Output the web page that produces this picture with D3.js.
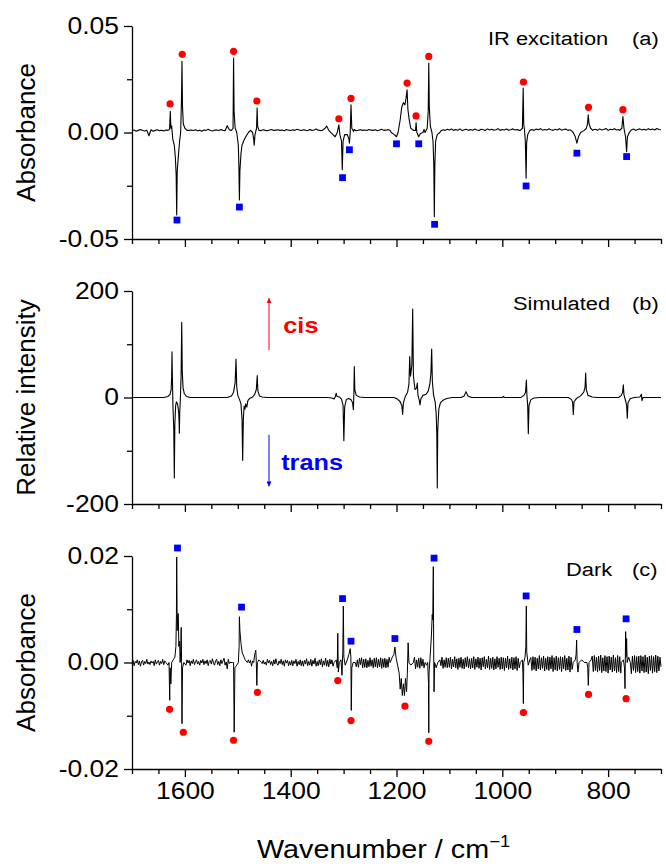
<!DOCTYPE html>
<html>
<head>
<meta charset="utf-8">
<script src="https://d3js.org/d3.v7.min.js"></script>
<style>
body { margin: 0; background: #fff; }
text { font-family: "Liberation Sans", Arial, sans-serif; }
</style>
</head>
<body>
<script>
(function(){

//x axis ticks (wavenumber, cm-1)
var xMajor = [1600, 1400, 1200, 1000, 800];
var xMinor = [1700, 1650, 1550, 1500, 1450, 1350, 1300, 1250, 1150, 1100, 1050,
              950, 900, 850, 750, 700];

//y axis ticks for each panel
var yMajorA = [-0.05, 0, 0.05], yMinorA = [-0.025, 0.025];
var yMajorB = [-200, 0, 200],   yMinorB = [-100, 100];
var yMajorC = [-0.02, 0, 0.02], yMinorC = [-0.01, 0.01];

var irNoiseStep = 4;
var irNoise = [
  8,12,6,10,14,9,7,11,-15,13,  6,10,13,8,11,7,12,9,10,8,  10,9,12,8,11,14,7,10,12,9,
  13,8,11,6,12,10,15,9,7,11,  12,9,14,10,8,32,13,10,9,11,  10,8,12,9,7,11,10,13,9,8,
  12,9,13,10,8,12,14,9,11,13,  10,12,8,14,11,9,13,10,15,12,  9,13,11,8,14,10,12,16,11,9,
  10,12,14,9,11,8,13,10,12,9,  11,13,10,9,12,14,8,11,13,10,  12,9,14,11,10,13,8,12,15,10,
  11,14,9,12,10,13,11,8,12,10,  12,10,13,9,11,14,10,12,15,11,  13,9,12,10,14,11,8,13,10,15,
  12,16,10,14,11,17,9,13,15,10,  14,11,16,12,9,15,13,10,17,12,  15,11,13,18,10,14,12,16,11,13,
  17,12,14,10,16,13,11,15,12,14,  10,16,13,18,11,14,12,17,13,10,  15,12,18,11,14,16,10,13,17,12,
  14,11,15,13,18,12,10,16,13,15,  11,17,12,14,19,10,15,13,18,12,  14,16,11,15,13,18,12,16,10,14,
  17,12,15,11,18,13,16,12,19,14,13
];
var darkNoiseStep = 2;
var darkNoise = [
  -3,4,-6,2,-1,5,-4,3,-7,1,4,-5,2,-2,6,-3,1,-4,3,-1,
  2,-6,5,-3,1,4,-5,2,-2,6,-4,3,-1,7,-5,2,-3,5,-6,1,
  4,-2,6,-5,2,-4,3,-1,5,-4,2,-3,5,-1,4,-6,3,-2,6,-4,
  1,5,-3,2,-5,4,-1,6,-4,3,-2,5,-6,2,4,-3,7,-1,-5,3,
  6,-4,2,-6,5,-2,3,8,-5,1,-12,6,-2,4,-5,3,-1,5,-6,2,
  4,-3,7,-5,2,-4,6,-2,3,-6,5,-1,4,-7,3,-2,6,-4,2,-5,
  3,-6,5,-2,4,-3,1,-5,6,-1,4,-4,2,-6,5,-3,7,-2,-5,3,
  -2,6,-4,3,-7,5,-1,4,-6,2,-5,4,-6,3,-2,6,-7,2,-4,5,
  -6,3,-7,4,-3,7,-6,2,-5,6,-7,4,-3,8,-7,2,-6,5,-4,7,
  -8,3,-5,8,-7,4,-8,6,-3,5,-7,6,-4,8,-9,3,-6,8,-8,2,
  -7,8,-9,4,-5,9,-8,3,-8,7,-6,9,-8,5,-9,8,-4,9,-10,6,
  -9,7,-10,4,-8,9,-7,5,-10,8,-8,9,-10,6,-8,9,-11,7,-9,8,
  -10,6,-9,10,-11,6,-8,9,-10,7,-6,10,-9,5,-11,8,-7,10,-10,6,
  -8,9,-11,7,-10,8,-6,10,-12,5,-9,8,-11,9,-7,6,-10,9,-8,7,
  -11,8,-9,10,-12,6,-8,9,-10,7,-12,8,-6,10,-11,5,-9,9,-10,8,
  -9,10,-12,6,-8,11,-10,7,-13,8,-9,10,-11,6,-12,9,-8,11,-10,7,
  -12,8,-10,11,-13,7,-9,10,-11,8,-14,9,-8,11,-12,6,-10,12,-13,8,
  -11,10,-14,7,-12,11,-9,8,-13,10,-12,9,-15,8,-10,12,-13,7,-11,10,
  -14,9,-12,11,-15,8,-10,12,-13,9,-16,10,-11,8,-14,12,-12,9,-15,11,
  -13,10,-16,8,-12,13,-14,9,-11,12,-16,8,-13,11,-15,10,-12,13,-17,9,
  -14,12,-16,9,-13,11,-17,10,-12,13,-15,8,-14,12,-18,10,-13,11,-16,9,
  -15,13,-17,10,-14,12,-18,9,-13,14,-16,11,-19,10,-14,12,-17,13,-15,10,
  -18,12,-15,14,-19,9,-16,13,-17,11,-20,12,-14,10,-18,14,-16,9,-19,13,
  -17,11,-20,13,-15,12,-19,10,-18,14,-16,9,-21,12,-15,13,-19,11,-17,12,
  -20,13,-16,11,-19,14,-18,10,-21,12,-15,13,-20,11,-17,14,-19,12,-16,10,
  -8
];

//(a) IR excitation: band regions [wavenumber, absorbance]
var irBands = [
  [[1632,0.001],[1629,0.0015],[1627.6,0.010],[1626.5,0.002],[1625,0.003],[1623,-0.003],[1620,-0.006],
   [1618,-0.012],[1616.5,-0.020],[1615.5,-0.0387],[1614.5,-0.018],[1612,-0.010],[1610,-0.004],[1608,0.000],
   [1606.5,0.015],[1605.5,0.0334],[1604.5,0.012],[1603,0.004],[1600,0.002],[1596,0.001]],
  [[1512,0.001],[1509,0.002],[1508,0.035],[1507,0.010],[1505,0.002],[1502,0.000],[1499,-0.006],
   [1498,-0.015],[1497,-0.0317],[1496,-0.018],[1494,-0.010],[1492,-0.006],[1489,-0.004],[1485,-0.002],[1480,0.000]],
  [[1472,0.000],[1470,-0.003],[1469,-0.006],[1467.5,-0.001],[1464.5,0.002],[1463.5,0.0115],[1462.5,0.003],[1460,0.001]],
  [[1340,0.001],[1335,0.002],[1332,0.003],[1328,0.001],[1322,-0.0005],[1316,-0.002],[1312,0.000],[1309,0.0036],
   [1307,-0.001],[1304,-0.004],[1302.5,-0.0175],[1301,-0.004],[1298,-0.001],[1293,-0.001],[1290,-0.003],
   [1289,-0.005],[1287.5,0.000],[1286,0.013],[1284.5,0.002],[1281,0.0005]],
  [[1210,0.000],[1204,-0.001],[1200,-0.002],[1197,0.000],[1193,0.006],[1190,0.012],[1187,0.014],[1184,0.013],
   [1182,0.016],[1180,0.020],[1178.5,0.011],[1176,0.006],[1173,0.002],[1168,0.001],[1164,0.001],[1163,0.0047],
   [1161.5,0.000],[1158,-0.002],[1155,-0.0005],[1150,0.000]],
  [[1146,0.000],[1142,0.002],[1140,0.010],[1139,0.0326],[1138,0.012],[1136,0.003],[1133,0.000],[1131,-0.004],
   [1129.5,-0.015],[1128.5,-0.0395],[1127.5,-0.015],[1126,-0.004],[1123,-0.001],[1118,0.000]],
  [[966,0.001],[962,0.002],[960.5,0.0209],[959.5,0.004],[958,0.001],[956.5,-0.004],[955,-0.0215],[954,-0.005],
   [952,-0.001],[948,0.001]],
  [[870,0.001],[866,0.000],[862,-0.002],[859,-0.005],[856,-0.002],[852,0.000],[845,0.001],[841,0.002],
   [839,0.004],[837.5,0.0083],[836,0.004],[833,0.002],[829,0.001]],
  [[778,0.001],[774,0.002],[772,0.0075],[770,0.002],[767,-0.002],[765,-0.009],[763.5,-0.002],[760,0.000]]
];
var irCis = [[1628,0.0134],[1605,0.0367],[1508,0.0381],[1464,0.0148],[1309,0.0064],[1286,0.0160],
             [1180,0.0232],[1163,0.0078],[1139,0.0357],[960,0.0237],[837,0.0118],[772,0.0107]];
var irTrans = [[1615,-0.0411],[1497,-0.0350],[1302,-0.0212],[1289,-0.0081],[1200,-0.0053],[1158,-0.0053],
               [1128,-0.0431],[955,-0.0251],[859,-0.0097],[765,-0.0113]];

//(b) simulated difference spectrum [wavenumber, relative intensity]
var simEnds = [[1700,0],[700,0]];
var simBands = [
  [[1640,0],[1632,2],[1628,6],[1626,15],[1625,40],[1624.4,86],[1623.5,30],[1622.5,-20],[1621,-60],[1620,-151],
   [1619,-50],[1617.5,-15],[1616,-8],[1614,-12],[1612,-25],[1611,-45],[1610.5,-67],[1609.8,-30],[1608.5,0],
   [1607.2,40],[1606,141],[1605,50],[1603.5,18],[1601,7],[1597,2],[1590,0]],
  [[1520,0],[1512,3],[1508,10],[1505,28],[1503.4,72],[1502,20],[1500,4],[1497,-3],[1494,-12],[1492,-40],
   [1490.8,-118],[1489.5,-40],[1488,-16],[1486.5,-22],[1485,-12],[1483,-18],[1481,-6],[1478,-2],[1474,0]],
  [[1472,1],[1468,6],[1465,15],[1463.3,41],[1462,12],[1459,3],[1454,1],[1445,0]],
  [[1330,0],[1322,-1],[1318,-3],[1315.5,2],[1314,8],[1312.5,2],[1308,1],[1304,-3],[1301,-15],[1299.5,-81],
   [1298,-18],[1295,-4],[1291,-2],[1286,-4],[1283,-10],[1281.5,-23],[1280.5,10],[1279.8,58],[1278.8,15],
   [1276,4],[1270,1],[1260,0]],
  [[1205,0],[1198,-3],[1193,-8],[1190,-15],[1188.4,-32],[1187,-10],[1183,3],[1179,10],[1176.5,25],[1175,77],
   [1173.5,40],[1171,60],[1169.4,166],[1168,40],[1165,15],[1162,18],[1160.7,27],[1159.5,5],[1157,-5],
   [1155.6,-14],[1154,-3]],
  [[1150,4],[1144,6],[1140,12],[1137,25],[1135,45],[1133.5,91],[1132.2,30],[1130,5],[1127,-8],[1125,-30],
   [1123.8,-70],[1122.9,-170],[1122,-60],[1120,-22],[1117,-10],[1112,-5],[1105,-2],[1095,0]],
  [[1078,0],[1072,3],[1068.6,11],[1065,3],[1058,0]],
  [[1000,0],[998,2],[996,0]],
  [[965,0],[959,4],[956,10],[954.5,33],[953.5,5],[952,-15],[950.8,-68],[949.5,-15],[946,-4],[940,-1],[930,0]],
  [[875,0],[869,-4],[867,-10],[865.8,-32],[864.5,-8],[860,-2],[852,3],[846,10],[843.5,20],[842.4,46],
   [841.2,15],[838,4],[830,1],[820,0]],
  [[780,0],[775,4],[772.5,10],[771.2,24],[770,5],[766.5,-8],[765,-15],[763.7,-39],[762.4,-10],[758,-2],
   [750,0],[740,1],[737,6],[736,-6],[734,0],[720,0]]
];

//(c) dark: band regions [wavenumber, absorbance]
var darkBands = [
  [[1636,0.000],[1632,-0.0005],[1630,0.000],[1628.7,-0.0071],[1628,-0.001],[1626.5,-0.004],[1625,0.000],
   [1622,0.0005],[1619,0.001],[1617,0.003],[1616,0.009],[1615.5,0.0198],[1614.5,0.006],[1613.5,0.009],
   [1612.5,0.0092],[1611.5,0.003],[1610,0.004],[1609,0.000],[1608,0.002],[1607,0.0066],[1606.2,0.000],
   [1605.5,-0.0115],[1604.5,-0.001],[1602,0.000],[1598,-0.0005]],
  [[1515,0.000],[1510,0.000],[1508,0.000],[1506.8,-0.0131],[1505.5,-0.001],[1502,-0.0005],[1499,0.000],
   [1497.5,0.003],[1497,0.0086],[1496,0.006],[1494,0.0036],[1492,0.002],[1489,0.0012],[1486,0.0005],[1482,0.000]],
  [[1470,0.000],[1468,0.0015],[1466,0.0023],[1465,0.000],[1464,-0.0043],[1463,0.000],[1460,0.0005],[1455,0.000]],
  [[1318,0.000],[1314,0.0005],[1312,-0.001],[1311,0.0055],[1310,-0.0018],[1308,0.000],[1305,0.0005],
   [1303,-0.0024],[1301.5,0.002],[1300.5,0.0106],[1299.5,0.001],[1297,-0.0005],[1293,0.0005],[1290,0.0015],
   [1287.5,0.0026],[1286.2,0.001],[1285.5,-0.009],[1284.5,-0.001],[1282,0.000],[1278,0.000]],
  [[1212,0.000],[1208,0.001],[1205,0.0015],[1203,0.0029],[1201,0.001],[1198,-0.0005],[1195,-0.002],
   [1193,-0.005],[1191,-0.003],[1189,-0.0062],[1187,-0.004],[1185,-0.0062],[1183,-0.003],[1181,-0.0055],
   [1179.5,-0.002],[1178,0.0037],[1176.5,0.000],[1173,-0.0005],[1168,0.000]],
  [[1146,0.000],[1143,-0.0005],[1141,0.000],[1139.5,-0.004],[1139,-0.0132],[1138.5,-0.002],[1136.5,0.001],
   [1134,0.005],[1132.5,0.009],[1131.5,0.008],[1130.4,0.018],[1129.8,0.004],[1129,-0.0055],[1128,0.000],
   [1125,-0.001],[1122,0.000],[1118,0.0005]],
  [[966,0.000],[962,0.0005],[961,-0.002],[960.2,-0.0077],[959.5,0.000],[957,0.001],[955.5,0.003],
   [954.6,0.0106],[953.8,0.002],[951,-0.0005],[948,0.0005]],
  [[866,0.000],[862,0.0005],[860.5,0.0015],[859.5,0.0042],[858.5,0.000],[857,-0.0018],[855,0.000],[850,0.0005],
   [845,0.000],[840,0.000],[838.5,-0.001],[837.4,-0.0043],[836,0.000],[832,0.0005]],
  [[775,0.000],[771,0.0005],[769,-0.001],[768,-0.0049],[767.3,0.002],[766.8,0.0058],[766,0.001],[765,0.0045],
   [764,0.000],[761,0.001],[758,0.000]]
];
var darkCis = [[1629,-0.0088],[1603,-0.0131],[1508,-0.0146],[1463,-0.0056],[1311,-0.0034],[1286,-0.0109],
               [1184,-0.0082],[1139,-0.0148],[960,-0.0094],[837,-0.0060],[766,-0.0068]];
var darkTrans = [[1614,0.0215],[1493,0.0104],[1302,0.0120],[1286,0.0040],[1203,0.0045],[1129,0.0196],
                 [955,0.0125],[859,0.0062],[766,0.0082]];

var red = "#ff0000", blue = "#0000ff";
var sx = 1.15; //horizontal stretch of the lettering in the figure

setChart();

function setChart(){

    var width = 666,
        height = 866;

    var svg = d3.select("body")
        .append("svg")
        .attr("width", width)
        .attr("height", height)
        .style("background", "#fff");

    //shared wavenumber axis, reversed
    var x = d3.scaleLinear()
        .domain([1700, 700])
        .range([132, 661]);

    var panels = [
        {top: 26, bottom: 239, domain: [-0.05, 0.05], major: yMajorA, minor: yMinorA, digits: 2,
         data: joinBands(irNoise, irNoiseStep, irBands), cis: irCis, trans: irTrans, lw: 1.1,
         title: "IR excitation", tag: "(a)", titleX: 488, titleY: 45,
         ylabel: "Absorbance"},
        {top: 291, bottom: 504, domain: [-200, 200], major: yMajorB, minor: yMinorB, digits: 0,
         data: joinBands(null, 0, simBands.concat([simEnds])), cis: [], trans: [], lw: 1.1,
         title: "Simulated", tag: "(b)", titleX: 513, titleY: 310,
         ylabel: "Relative intensity"},
        {top: 556, bottom: 769, domain: [-0.02, 0.02], major: yMajorC, minor: yMinorC, digits: 2,
         data: joinBands(darkNoise, darkNoiseStep, darkBands), cis: darkCis, trans: darkTrans, lw: 1,
         title: "Dark", tag: "(c)", titleX: 566, titleY: 576,
         ylabel: "Absorbance"}
    ];

    panels.forEach(function(p, i){
        var y = d3.scaleLinear()
            .domain(p.domain)
            .range([p.bottom, p.top]);
        p.y = y;

        var g = svg.append("g").attr("class", "panel");

        //spectrum trace
        var line = d3.line()
            .x(function(d){ return x(d[0]); })
            .y(function(d){ return y(d[1]); });

        g.append("path")
            .datum(p.data)
            .attr("d", line)
            .attr("fill", "none")
            .attr("stroke", "#000")
            .attr("stroke-width", p.lw)
            .attr("stroke-linejoin", "round");

        //band markers: cis = red dots, trans = blue squares
        g.selectAll(".cis")
            .data(p.cis)
            .enter()
            .append("circle")
            .attr("class", "cis")
            .attr("cx", function(d){ return x(d[0]); })
            .attr("cy", function(d){ return y(d[1]); })
            .attr("r", 3.6)
            .attr("fill", red);

        g.selectAll(".trans")
            .data(p.trans)
            .enter()
            .append("rect")
            .attr("class", "trans")
            .attr("x", function(d){ return x(d[0]) - 3.4; })
            .attr("y", function(d){ return y(d[1]) - 3.4; })
            .attr("width", 6.8)
            .attr("height", 6.8)
            .attr("fill", blue);

        //left axis
        var fmt = function(d){ return d.toFixed(p.digits); };
        var yAxis = g.append("g")
            .attr("transform", "translate(132,0)")
            .call(d3.axisLeft(y).tickValues(p.major).tickSize(8).tickSizeOuter(0).tickFormat(fmt));
        styleAxis(yAxis);
        yAxis.selectAll("text")
            .attr("x", -13 / sx)
            .attr("transform", "scale(" + sx + ",1)")
            .style("font-size", "23px");

        var yMinorAxis = g.append("g")
            .attr("transform", "translate(132,0)")
            .call(d3.axisLeft(y).tickValues(p.minor).tickSize(5).tickFormat(""));
        styleAxis(yMinorAxis);
        yMinorAxis.select(".domain").remove();

        //bottom axis
        var xAxis = g.append("g")
            .attr("transform", "translate(0," + p.bottom + ")")
            .call(d3.axisBottom(x).tickValues(xMajor).tickSize(8).tickSizeOuter(0)
                .tickFormat(i == 2 ? d3.format("d") : ""));
        styleAxis(xAxis);
        xAxis.selectAll("text")
            .attr("y", 14)
            .attr("transform", "scale(" + sx + ",1)")
            .style("font-size", "23px");

        var xMinorAxis = g.append("g")
            .attr("transform", "translate(0," + p.bottom + ")")
            .call(d3.axisBottom(x).tickValues(xMinor).tickSize(5).tickFormat(""));
        styleAxis(xMinorAxis);
        xMinorAxis.select(".domain").remove();

        //panel title and tag
        addText(svg, p.titleX, p.titleY, p.title, 19, "normal", "#000");
        addText(svg, 632, p.titleY, p.tag, 19, "normal", "#000");

        //y axis title
        svg.append("text")
            .attr("transform", "translate(35," + ((p.top + p.bottom) / 2) + ") rotate(-90)")
            .attr("text-anchor", "middle")
            .style("font-size", "26px")
            .style("fill", "#000")
            .text(p.ylabel);
    });

    //cis / trans arrows on the simulated panel
    var yb = panels[1].y;
    var defs = svg.append("defs");
    [["upArrow", red], ["downArrow", blue]].forEach(function(m){
        defs.append("marker")
            .attr("id", m[0])
            .attr("viewBox", "0 0 10 10")
            .attr("refX", 10)
            .attr("refY", 5)
            .attr("markerWidth", 7)
            .attr("markerHeight", 5)
            .attr("orient", "auto")
            .append("path")
            .attr("d", "M0,0L10,5L0,10Z")
            .attr("fill", m[1]);
    });

    svg.append("line")
        .attr("x1", x(1441)).attr("x2", x(1441))
        .attr("y1", yb(89)).attr("y2", yb(187))
        .attr("stroke", red)
        .attr("stroke-width", 1)
        .attr("marker-end", "url(#upArrow)");

    svg.append("line")
        .attr("x1", x(1441)).attr("x2", x(1441))
        .attr("y1", yb(-70)).attr("y2", yb(-167))
        .attr("stroke", blue)
        .attr("stroke-width", 1)
        .attr("marker-end", "url(#downArrow)");

    addText(svg, x(1414), yb(121), "cis", 22, "bold", red);
    addText(svg, x(1418), yb(-136), "trans", 22, "bold", blue);

    //x axis title
    var xt = svg.append("text")
        .attr("transform", "translate(257,858) scale(" + sx + ",1)")
        .style("font-size", "25px")
        .style("fill", "#000");
    xt.append("tspan").text("Wavenumber / cm");
    xt.append("tspan")
        .attr("dy", -11)
        .style("font-size", "16px")
        .text("\u22121");
};

//merge baseline noise with band regions, keeping the band points where they overlap
function joinBands(noise, step, bands){
    var spans = bands.map(function(b){ return d3.extent(b, function(d){ return d[0]; }); });
    var pts = [];
    if (noise){
        noise.forEach(function(v, i){
            var w = 1700 - step * i;
            var inside = spans.some(function(s){ return w >= s[0] && w <= s[1]; });
            if (!inside) pts.push([w, v * 1e-4]);
        });
    };
    bands.forEach(function(b){
        b.forEach(function(d){ pts.push(d); });
    });
    pts.sort(function(a, b){ return b[0] - a[0]; });
    return pts;
};

function styleAxis(sel){
    sel.select(".domain")
        .attr("stroke", "#000")
        .attr("stroke-width", 1.3);
    sel.selectAll(".tick line")
        .attr("stroke", "#000")
        .attr("stroke-width", 1.3);
    sel.selectAll("text")
        .style("fill", "#000")
        .style("font-family", "'Liberation Sans', Arial, sans-serif");
};

function addText(svg, x, y, str, size, weight, color){
    return svg.append("text")
        .attr("transform", "translate(" + x + "," + y + ") scale(" + sx + ",1)")
        .style("font-size", size + "px")
        .style("font-weight", weight)
        .style("fill", color)
        .text(str);
};

})();
</script>
</body>
</html>
